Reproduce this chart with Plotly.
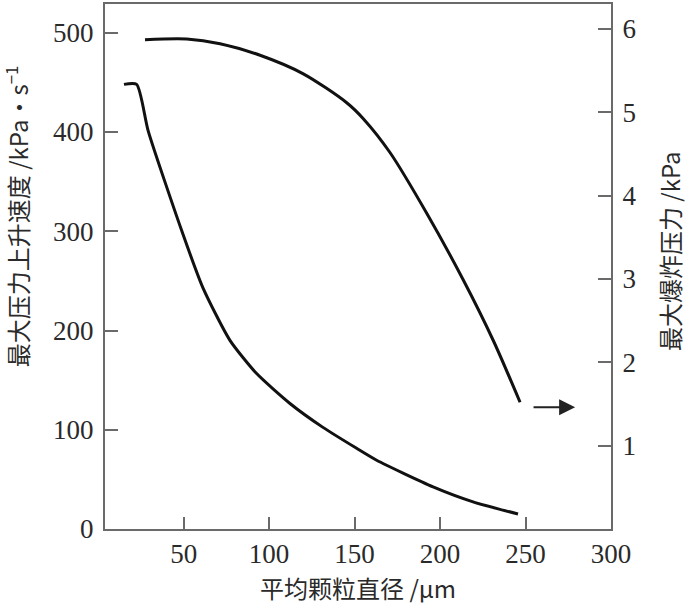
import plotly.graph_objects as go

# Data
diam_rate = [15.1, 22.5, 29.3, 48.9, 61.3, 77.1, 92.7, 112.2, 131.5, 151.2,
             162.9, 195.9, 219.3, 245.6]
rate = [448.0, 448.0, 400.9, 300.5, 243.0, 190.1, 156.6, 126.5, 102.4, 81.3,
        69.3, 42.5, 27.4, 15.1]

diam_press = [27.4, 51.8, 71.3, 94.7, 120.0, 145.4, 155.1, 170.7, 192.2, 213.6,
              231.2, 246.8]
press = [5.872, 5.880, 5.824, 5.685, 5.462, 5.115, 4.924, 4.518, 3.789, 2.988,
         2.259, 1.521]

arrow_x = [253.8, 279.0]
arrow_y = 1.46

x_ticks = [50, 100, 150, 200, 250, 300]
left_ticks = [0, 100, 200, 300, 400, 500]
right_ticks = [1, 2, 3, 4, 5, 6]

x_title = "平均颗粒直径 /μm"
left_title = "最大压力上升速度 /kPa•s<sup>−1</sup>"
right_title = "最大爆炸压力 /kPa"

W, H = 688, 606
L, R, T, B = 105, 77, 2, 77
PH = H - T - B

axis_col = "#6a6a6a"
text_col = "#2a2a2a"
tick_font = dict(family="Liberation Serif", size=27, color=text_col)
cjk_font = dict(family="Noto Sans CJK SC, Liberation Serif", size=24, color=text_col)

fig = go.Figure()
fig.add_trace(go.Scatter(x=diam_rate, y=rate, mode="lines",
                         line=dict(color="#111111", width=3, shape="spline", smoothing=0.6),
                         showlegend=False, hoverinfo="skip"))
fig.add_trace(go.Scatter(x=diam_press, y=press, mode="lines", yaxis="y2",
                         line=dict(color="#111111", width=3, shape="spline", smoothing=0.8),
                         showlegend=False, hoverinfo="skip"))

fig.add_annotation(x=arrow_x[1], y=arrow_y, xref="x", yref="y2",
                   ax=arrow_x[0], ay=arrow_y, axref="x", ayref="y2",
                   showarrow=True, arrowhead=2, arrowsize=1.6, arrowwidth=2,
                   arrowcolor="#222222", text="")

# axis titles placed as annotations (pixel-matched)
fig.add_annotation(text=x_title, x=0.5, xref="paper",
                   y=-(588 - (T + PH)) / PH, yref="paper",
                   xanchor="center", yanchor="middle", showarrow=False, font=cjk_font)
fig.add_annotation(text=left_title, x=0, xref="paper", xshift=17 - L,
                   y=(PH - (216 - T)) / PH, yref="paper",
                   xanchor="center", yanchor="middle",
                   showarrow=False, textangle=-90, font=cjk_font)
fig.add_annotation(text=right_title, x=1, xref="paper", xshift=669 - (W - R),
                   y=(PH - (250 - T)) / PH, yref="paper",
                   xanchor="center", yanchor="middle",
                   showarrow=False, textangle=-90, font=cjk_font)

fig.update_layout(
    width=W, height=H,
    margin=dict(l=L, r=R, t=T, b=B, pad=0),
    paper_bgcolor="white", plot_bgcolor="white",
    xaxis=dict(range=[4, 300], tickvals=x_ticks, ticks="inside", ticklen=12,
               tickwidth=2, tickcolor=axis_col, showline=True, linecolor=axis_col,
               linewidth=2, mirror=True, showgrid=False, zeroline=False,
               tickfont=tick_font),
    yaxis=dict(range=[0, 529], tickvals=left_ticks, ticks="inside", ticklen=13,
               tickwidth=2, tickcolor=axis_col, showline=True, linecolor=axis_col,
               linewidth=2, showgrid=False, zeroline=False, tickfont=tick_font,
               ticklabelstandoff=4),
    yaxis2=dict(range=[0, 6.30], tickvals=right_ticks, ticks="inside", ticklen=13,
                tickwidth=2, tickcolor=axis_col, showline=True, linecolor=axis_col,
                linewidth=2, showgrid=False, zeroline=False, tickfont=tick_font,
                overlaying="y", side="right", ticklabelstandoff=4),
)

fig.write_html("out.html", config={"displayModeBar": False})

# remove default page margin so the figure sits at the window's top-left
with open("out.html", "r", encoding="utf-8") as f:
    html = f.read()
html = html.replace("<body>", '<body style="margin:0;padding:0;overflow:hidden">', 1)
with open("out.html", "w", encoding="utf-8") as f:
    f.write(html)
